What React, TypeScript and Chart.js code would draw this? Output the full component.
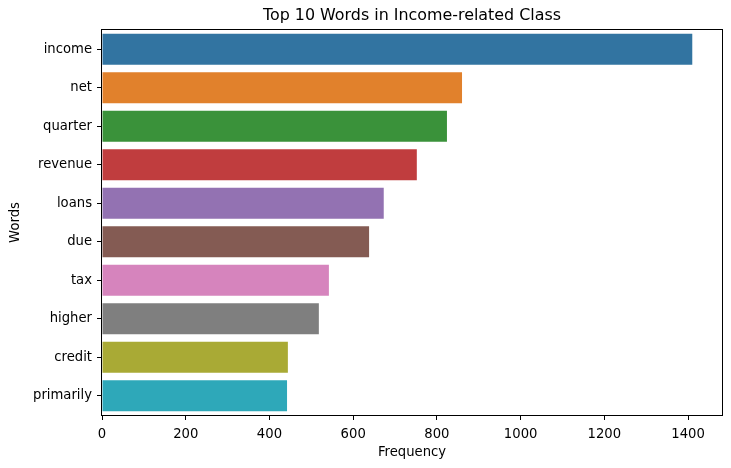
import { useEffect, useRef } from "react";
import { Chart, registerables } from "chart.js";
Chart.register(...registerables);

const words = ["income", "net", "quarter", "revenue", "loans", "due", "tax", "higher", "credit", "primarily"];
const counts = [1410, 860, 824, 752, 673, 638, 542, 518, 444, 442];
const barColors = ["#3274a1", "#e1812c", "#3a923a", "#c03d3e", "#9372b2", "#845b53", "#d684bd", "#7f7f7f", "#a9aa35", "#2ea8b9"];
const chartTitle = "Top 10 Words in Income-related Class";

const FONT = "'DejaVu Sans', sans-serif";

// title centred over the axes box, plus the four spines
const framePlugin = {
  id: "frame",
  afterDraw(chart: Chart) {
    const { ctx, chartArea } = chart;
    const { left, top, right, bottom } = chartArea;
    ctx.save();
    ctx.strokeStyle = "#000";
    ctx.lineWidth = 1;
    ctx.strokeRect(Math.round(left) - 0.5, Math.round(top) - 0.5, Math.round(right - left) + 1, Math.round(bottom - top) + 1);
    ctx.fillStyle = "#000";
    ctx.font = `15.9px ${FONT}`;
    ctx.textAlign = "center";
    ctx.textBaseline = "middle";
    ctx.fillText(chartTitle, (left + right) / 2, 16);
    ctx.restore();
  },
};

export default function App() {
  const canvasRef = useRef<HTMLCanvasElement | null>(null);

  useEffect(() => {
    document.body.style.margin = "0";
    if (!canvasRef.current) return;
    const chart = new Chart(canvasRef.current, {
      type: "bar",
      data: {
        labels: words,
        datasets: [{ data: counts, backgroundColor: barColors, borderWidth: 0, barPercentage: 0.8, categoryPercentage: 1 }],
      },
      options: {
        indexAxis: "y",
        responsive: false,
        animation: false,
        layout: { padding: { top: 30, right: 9, left: 0, bottom: 0 } },
        plugins: { legend: { display: false }, tooltip: { enabled: false }, title: { display: false } },
        scales: {
          x: {
            min: 0,
            max: 1481,
            afterFit: (s: any) => { s.height = 53; },
            ticks: {
              stepSize: 200,
              includeBounds: false,
              color: "#000",
              padding: 7,
              font: { family: FONT, size: 13.2 },
              callback: (v: any) => String(v),
            },
            grid: { drawOnChartArea: false, drawTicks: true, tickLength: 5, color: "#000" },
            border: { display: false },
            title: { display: true, text: "Frequency", color: "#000", padding: { top: 9, bottom: 8 }, font: { family: FONT, size: 13.2 } },
          },
          y: {
            afterFit: (s: any) => { s.width = 102; },
            ticks: { color: "#000", padding: 5, font: { family: FONT, size: 13.2 } },
            grid: { offset: false, drawOnChartArea: false, drawTicks: true, tickLength: 5, color: "#000" },
            border: { display: false },
            title: { display: true, text: "Words", color: "#000", padding: { top: 8, bottom: 8 }, font: { family: FONT, size: 13.2 } },
          },
        },
      },
      plugins: [framePlugin],
    });
    return () => chart.destroy();
  }, []);

  return <canvas ref={canvasRef} width={731} height={468} />;
}
